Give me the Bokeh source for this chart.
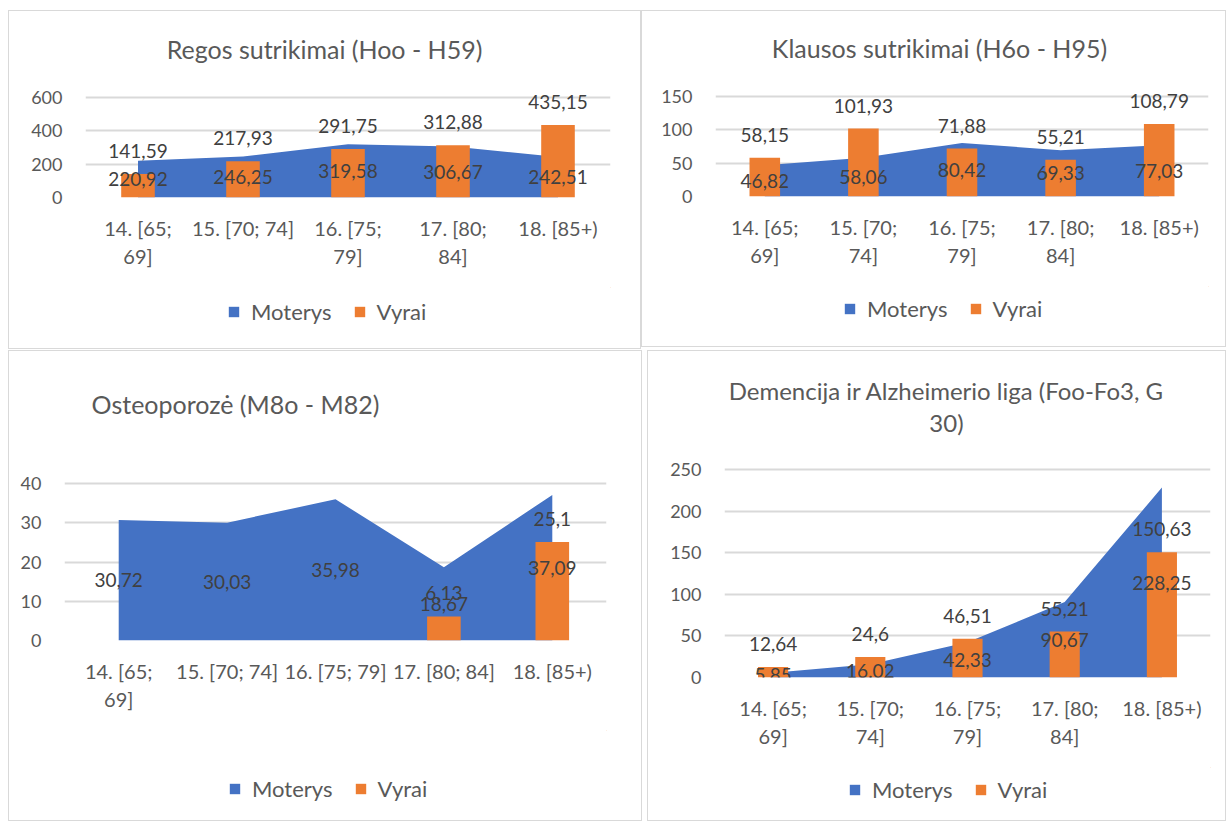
from bokeh.plotting import figure
from bokeh.models import (ColumnDataSource, FactorRange, Range1d, LabelSet, Label,
                          Legend, LegendItem)
from bokeh.core.properties import value
from bokeh.layouts import row, column
from bokeh.embed import file_html
from bokeh.resources import INLINE

# ---------------- data ----------------
categories = ["14. [65; 69]", "15. [70; 74]", "16. [75; 79]", "17. [80; 84]", "18. [85+)"]
series_names = ["Moterys", "Vyrai"]

regos_title = "Regos sutrikimai (Hoo - H59)"
regos_ticks = ["14. [65;\n69]", "15. [70; 74]", "16. [75;\n79]", "17. [80;\n84]", "18. [85+)"]
regos_moterys = [220.92, 246.25, 319.58, 306.67, 242.51]
regos_vyrai = [141.59, 217.93, 291.75, 312.88, 435.15]

klausos_title = "Klausos sutrikimai (H6o - H95)"
klausos_ticks = ["14. [65;\n69]", "15. [70;\n74]", "16. [75;\n79]", "17. [80;\n84]", "18. [85+)"]
klausos_moterys = [46.82, 58.06, 80.42, 69.33, 77.03]
klausos_vyrai = [58.15, 101.93, 71.88, 55.21, 108.79]

osteo_title = "Osteoporozė (M8o - M82)"
osteo_ticks = ["14. [65;\n69]", "15. [70; 74]", "16. [75; 79]", "17. [80; 84]", "18. [85+)"]
osteo_moterys = [30.72, 30.03, 35.98, 18.67, 37.09]
osteo_vyrai = [None, None, None, 6.13, 25.1]

dem_title = "Demencija ir Alzheimerio liga (Foo-Fo3, G\n30)"
dem_ticks = ["14. [65;\n69]", "15. [70;\n74]", "16. [75;\n79]", "17. [80;\n84]", "18. [85+)"]
dem_moterys = [5.85, 16.02, 42.33, 90.67, 228.25]
dem_vyrai = [12.64, 24.6, 46.51, 55.21, 150.63]

# ---------------- style ----------------
BLUE = "#4472C4"
ORANGE = "#ED7D31"
GRID = "#D9D9D9"
AXIS_TXT = "#595959"
LBL_TXT = "#404040"
FONT = "Lato"


def fmt(v):
    s = f"{v:.2f}".rstrip("0").rstrip(".")
    return s.replace(".", ",")


def panel(ticks, women, men, title, ymax, step, g):
    # g: geometry in page pixels
    fx0, fx1 = g["frame_x"]
    zero_y, top_grid_y = g["zero_y"], g["top_grid_y"]
    px0, py0 = g["pos"]
    w, h = g["size"]
    axis_h = g["axis_h"]
    bl = fx0 - px0
    br = px0 + w - fx1
    fh = zero_y - py0
    chart_h = fh + axis_h
    leg_h = h - chart_h
    units_per_px = ymax / (zero_y - top_grid_y)
    y_end = fh * units_per_px
    cat_w = (fx1 - fx0) / len(ticks)

    p = figure(x_range=FactorRange(*ticks, range_padding=0),
               y_range=Range1d(0, y_end),
               width=w, height=chart_h,
               min_border_left=bl, min_border_right=br,
               min_border_top=0, min_border_bottom=axis_h,
               output_backend="svg", toolbar_location=None,
               background_fill_color=None, border_fill_color=None,
               outline_line_color=None)
    p.xgrid.grid_line_color = None
    p.ygrid.grid_line_color = GRID
    p.ygrid.grid_line_width = 2
    p.yaxis.ticker = list(range(0, ymax + 1, step))
    for ax in (p.xaxis, p.yaxis):
        ax.axis_line_color = None
        ax.major_tick_line_color = None
        ax.minor_tick_line_color = None
        ax.major_tick_out = 0
        ax.major_tick_in = 0
        ax.major_label_text_font = FONT
        ax.major_label_text_color = AXIS_TXT
    p.yaxis.major_label_text_font_size = "18px"
    p.yaxis.major_label_standoff = 23
    p.xaxis.major_label_text_font_size = "20px"
    p.xaxis.major_label_standoff = 18
    p.xaxis.major_label_text_line_height = 1.2

    src_w = ColumnDataSource(dict(x=ticks, y=women, half=[v / 2 for v in women],
                                  t=[fmt(v) for v in women]))
    mx = [t for t, v in zip(ticks, men) if v is not None]
    mv = [v for v in men if v is not None]
    src_m = ColumnDataSource(dict(x=mx, y=mv, t=[fmt(v) for v in mv]))

    p.varea(x="x", y1=0, y2="y", source=src_w, fill_color=BLUE)
    p.vbar(x="x", top="y", width=g["bar_w"], source=src_m, fill_color=ORANGE,
           line_color=None)

    p.add_layout(LabelSet(x="x", y="y", text="t", source=src_m, y_offset=23,
                          text_align="center", text_baseline="middle",
                          text_font=value(FONT), text_font_size=value("19px"),
                          text_color=value(LBL_TXT)))
    p.add_layout(LabelSet(x="x", y="half", text="t", source=src_w,
                          text_align="center", text_baseline="middle",
                          text_font=value(FONT), text_font_size=value("19px"),
                          text_color=value(LBL_TXT)))

    tx, ty = g["title"]
    p.add_layout(Label(x=(tx - fx0) / cat_w, y=(zero_y - ty) * units_per_px, text=title,
                       text_align="center", text_baseline="middle",
                       text_font=FONT, text_font_size=g["title_size"], text_color=AXIS_TXT,
                       text_line_height=1.1))

    # legend strip below the chart (frame aligned with the chart frame)
    lp = figure(width=w, height=leg_h, x_range=Range1d(0, 1), y_range=Range1d(0, 1),
                min_border=0, x_axis_location=None, y_axis_location=None,
                output_backend="svg", toolbar_location=None,
                background_fill_color=None, border_fill_color=None,
                outline_line_color=None)
    lp.xgrid.visible = False
    lp.ygrid.visible = False
    hidden = ColumnDataSource(dict(x=[5, 6], y=[5, 5], y2=[6, 6]))
    ra = lp.varea(x="x", y1="y", y2="y2", source=hidden, fill_color=BLUE)
    rb = lp.vbar(x="x", top="y2", bottom="y", width=0.1, source=hidden,
                 fill_color=ORANGE, line_color=None)
    lx, lcy = g["legend"]
    leg_bottom = (py0 + h - lcy) - 13
    leg = Legend(items=[LegendItem(label=series_names[0], renderers=[ra]),
                        LegendItem(label=series_names[1], renderers=[rb])],
                 orientation="horizontal", location=(lx - fx0, leg_bottom),
                 padding=0, margin=0,
                 spacing=21, label_standoff=11, glyph_width=13, glyph_height=13,
                 border_line_color=None, background_fill_alpha=0,
                 label_text_font=FONT, label_text_font_size="22px",
                 label_text_color=AXIS_TXT)
    lp.add_layout(leg)

    return column(p, lp, margin=g["margin"], spacing=0,
                  styles={"outline": "1px solid #D9D9D9", "outline-offset": "-1px",
                          "background-color": "white"})


g1 = dict(pos=(8, 10), size=(633, 339), frame_x=(85, 610), zero_y=197, top_grid_y=97,
          axis_h=90, title=(324, 48), title_size="25px", legend=(227, 312),
          margin=(10, 0, 0, 8), bar_w=0.32)
g2 = dict(pos=(641, 10), size=(585, 337), frame_x=(715, 1208), zero_y=196, top_grid_y=96,
          axis_h=90, title=(939, 47), title_size="25px", legend=(843, 309),
          margin=(10, 0, 0, 0), bar_w=0.31)
g3 = dict(pos=(8, 350), size=(634, 471), frame_x=(64, 606), zero_y=640, top_grid_y=483,
          axis_h=90, title=(235, 403), title_size="25px", legend=(228, 789),
          margin=(1, 0, 0, 8), bar_w=0.31)
g4 = dict(pos=(647, 350), size=(579, 471), frame_x=(724, 1210), zero_y=677, top_grid_y=469,
          axis_h=90, title=(946, 406), title_size="24px", legend=(848, 790),
          margin=(1, 0, 0, 5), bar_w=0.31)

p1 = panel(regos_ticks, regos_moterys, regos_vyrai, regos_title, 600, 200, g1)
p2 = panel(klausos_ticks, klausos_moterys, klausos_vyrai, klausos_title, 150, 50, g2)
p3 = panel(osteo_ticks, osteo_moterys, osteo_vyrai, osteo_title, 40, 10, g3)
p4 = panel(dem_ticks, dem_moterys, dem_vyrai, dem_title, 250, 50, g4)

layout = column(row(p1, p2, spacing=0), row(p3, p4, spacing=0), spacing=0)
open("out.html", "w").write(file_html(layout, INLINE))
